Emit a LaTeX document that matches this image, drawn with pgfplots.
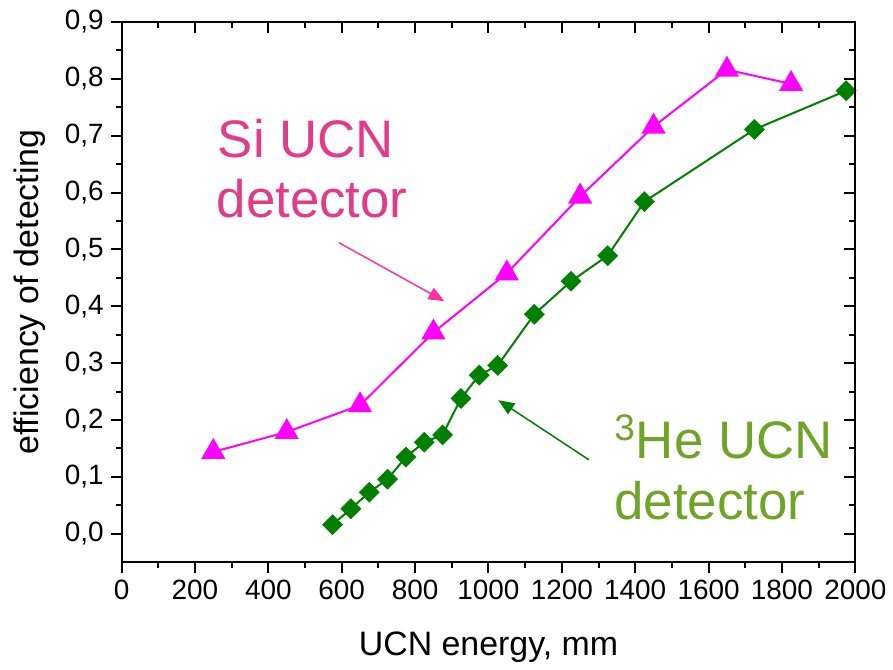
\documentclass[border=0pt]{standalone}
\usepackage{fontspec}
\setmainfont{Liberation Sans}
\usepackage{pgfplots}
\pgfplotsset{compat=1.18}
\usetikzlibrary{arrows.meta,calc}

\definecolor{simag}{RGB}{255,0,255}
\definecolor{hegreen}{RGB}{0,128,0}
\definecolor{sitext}{RGB}{228,58,138}
\definecolor{siarrow}{RGB}{255,50,160}
\definecolor{hetext}{RGB}{110,165,40}

\pgfplotsset{
  frame/.style={
    scale only axis, width=368pt, height=271pt,
    xmin=0, xmax=2000, ymin=-0.05, ymax=0.9,
    xtick={0,200,400,600,800,1000,1200,1400,1600,1800,2000},
    ytick={0,0.1,0.2,0.3,0.4,0.5,0.6,0.7,0.8,0.9},
    minor x tick num=1, minor y tick num=1,
    major tick length=5.5pt, minor tick length=3pt,
    axis line style={line width=1pt},
    every tick/.style={black, line width=1pt},
  }
}

\begin{document}
\begin{tikzpicture}
\begin{axis}[frame, name=ax,
  tick align=outside, xtick pos=left, ytick pos=left,
  tick label style={font=\fontsize{14}{16}\selectfont},
  label style={font=\fontsize{17}{20}\selectfont},
  xlabel={UCN energy, mm},
  ylabel={efficiency of detecting},
  xlabel style={at={(axis description cs:0.5,-0.1734)}, anchor=base},
  ylabel style={at={(axis description cs:-0.1128,0.5)}, anchor=base},
  /pgf/number format/assume math mode=true,
  yticklabel style={/pgf/number format/fixed, /pgf/number format/fixed zerofill,
    /pgf/number format/precision=1, /pgf/number format/use comma},
  xticklabel style={/pgf/number format/1000 sep={}},
  clip=false,
]

% Si UCN detector
\addplot[simag, line width=1pt, mark=triangle*, mark size=6pt] coordinates {
  (250,0.144) (450,0.179) (650,0.226) (850,0.354) (1050,0.458)
  (1250,0.593) (1450,0.716) (1650,0.816) (1825,0.791)
};

% 3He UCN detector
\addplot[hegreen, line width=1pt, mark=square*, mark size=3.2pt, mark options={rotate=45}] coordinates {
  (575,0.016) (625,0.044) (675,0.073) (725,0.096) (775,0.135)
  (825,0.161) (875,0.174) (925,0.238) (975,0.279) (1025,0.296)
  (1125,0.386) (1225,0.444) (1325,0.489) (1425,0.584) (1725,0.711)
  (1975,0.779)
};

% annotations
\node[anchor=base west, inner sep=0, text=sitext, font=\fontsize{26.5}{30}\selectfont]
  at (axis cs:261,0.661) {Si UCN};
\node[anchor=base west, inner sep=0, text=sitext, font=\fontsize{26.5}{30}\selectfont]
  at (axis cs:258,0.556) {detector};
\draw[siarrow, line width=0.75pt, -{Triangle[length=8pt,width=6.5pt]}]
  (axis cs:592,0.512) -- (axis cs:880,0.409);

\node[anchor=base west, inner sep=0, text=hetext, font=\fontsize{26.5}{30}\selectfont]
  at (axis cs:1342,0.133) {\textsuperscript{3}He UCN};
\node[anchor=base west, inner sep=0, text=hetext, font=\fontsize{26.5}{30}\selectfont]
  at (axis cs:1342,0.025) {detector};
\draw[hegreen, line width=0.75pt, -{Triangle[length=8pt,width=6.5pt]}]
  (axis cs:1274,0.130) -- (axis cs:1027,0.235);
\end{axis}

% mirrored ticks on top and right point inwards
\begin{axis}[frame,
  tick align=inside, xtick pos=right, ytick pos=right,
  xticklabels={}, yticklabels={},
]
\end{axis}

\path ($(ax.south west)+(-61pt,-51pt)$) rectangle ($(ax.north east)+(17.5pt,11pt)$);
\end{tikzpicture}
\end{document}
